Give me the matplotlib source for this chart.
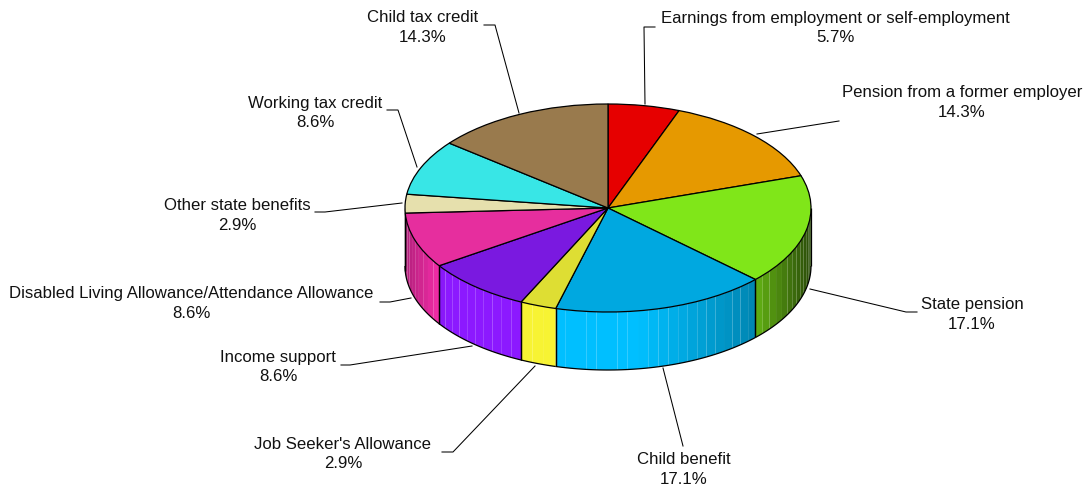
import numpy as np
import matplotlib
matplotlib.use('Agg')
import matplotlib.pyplot as plt

plt.rcParams['font.family'] = ['Liberation Sans', 'DejaVu Sans']

labels = ['Earnings from employment or self-employment', 'Pension from a former employer',
          'State pension', 'Child benefit', "Job Seeker's Allowance", 'Income support',
          'Disabled Living Allowance/Attendance Allowance', 'Other state benefits',
          'Working tax credit', 'Child tax credit']
percent = [5.7, 14.3, 17.1, 17.1, 2.9, 8.6, 8.6, 2.9, 8.6, 14.3]
top_colors = ['#e60000', '#e69900', '#80e619', '#00a8e0', '#dede33',
              '#7a19e0', '#e62e9e', '#e6e0ad', '#38e6e6', '#997a4d']
side_colors = ['#ff0000', '#ffaa00', '#8eff1c', '#00bfff', '#f7f333',
               '#8c19ff', '#ff2eb0', '#fff8c0', '#3effff', '#aa8855']

# label centre x, first line y, second line y (pixels from top left)
label_pos = [(835, 18, 38), (962, 92, 112), (972, 304, 324), (684, 459, 479), (343, 444, 463),
             (278, 357, 376), (191, 293, 313), (237, 205, 225), (315, 103, 122), (423, 18, 37)]
leaders = [[(655, 27), (644, 27), (645, 104)],
           [(839, 121), (757, 134)],
           [(917, 312), (906, 312), (810, 289)],
           [(683, 446), (663, 368)],
           [(442, 452), (453, 452), (535, 366)],
           [(341, 365), (350, 365), (472, 346)],
           [(380, 302), (390, 302), (411, 298)],
           [(315, 212), (325, 212), (402, 203)],
           [(387, 110), (398, 110), (417, 167)],
           [(484, 25), (495, 25), (519, 113)]]

W, H = 1090, 486
cx, cy, rx, ry, depth = 608, 208, 203, 104, 58

fig = plt.figure(figsize=(W / 100, H / 100), dpi=100)

# unit circle axes, stretched so the pie top becomes the ellipse
ax = fig.add_axes([0, 0, 1, 1])
wedges, _ = ax.pie(percent, colors=top_colors, startangle=90, counterclock=False, radius=1,
                   wedgeprops={'edgecolor': 'black', 'linewidth': 0.9, 'clip_on': False, 'zorder': 5})
ax.set_aspect('auto')
ax.set_xlim(-cx / rx, (W - cx) / rx)
ax.set_ylim((cy - H) / ry, cy / ry)
ax.axis('off')

d = depth / ry


def shade(x):
    # side wall gets darker towards both ends
    return np.interp(x, [-1, -0.9, -0.8, 0.15, 0.72, 1], [0.7, 0.85, 1, 1, 0.7, 0.3])


# side wall, clockwise angle from 12 o'clock
edges = np.cumsum([0] + percent) / sum(percent) * 360
for i in range(len(percent)):
    a0 = max(edges[i], 90)
    a1 = min(edges[i + 1], 270)
    if a1 <= a0:
        continue
    base = np.array(matplotlib.colors.to_rgb(side_colors[i]))
    n = max(int((a1 - a0) / 2.9), 2)
    t = np.radians(np.linspace(a0, a1, n + 1))
    for j in range(n):
        tt = np.linspace(t[j], t[j + 1], 4)
        xs = np.sin(tt)
        ys = np.cos(tt)
        col = base * shade(xs.mean())
        ax.fill(np.r_[xs, xs[::-1]], np.r_[ys, ys[::-1] - d], color=col, lw=0, zorder=1,
                clip_on=False)
    tt = np.radians(np.linspace(a0, a1, 60))
    ax.plot(np.sin(tt), np.cos(tt) - d, color='black', lw=0.9, zorder=3, solid_capstyle='butt')
    for a in (a0, a1):
        ra = np.radians(a)
        ax.plot([np.sin(ra)] * 2, [np.cos(ra), np.cos(ra) - d], color='black', lw=0.9, zorder=3,
                solid_capstyle='butt')

# overlay in pixel coordinates for labels and leader lines
ov = fig.add_axes([0, 0, 1, 1], facecolor='none')
ov.set_xlim(0, W)
ov.set_ylim(H, 0)
ov.axis('off')

for name, pct, (x, y1, y2), pts in zip(labels, percent, label_pos, leaders):
    ov.text(x, y1, name, ha='center', va='center', fontsize=12.05, color='#111111')
    ov.text(x, y2, f'{pct:.1f}%', ha='center', va='center', fontsize=12.05, color='#111111')
    ov.plot([p[0] for p in pts], [p[1] for p in pts], color='black', lw=0.75)

fig.savefig('out.png', dpi=100)
